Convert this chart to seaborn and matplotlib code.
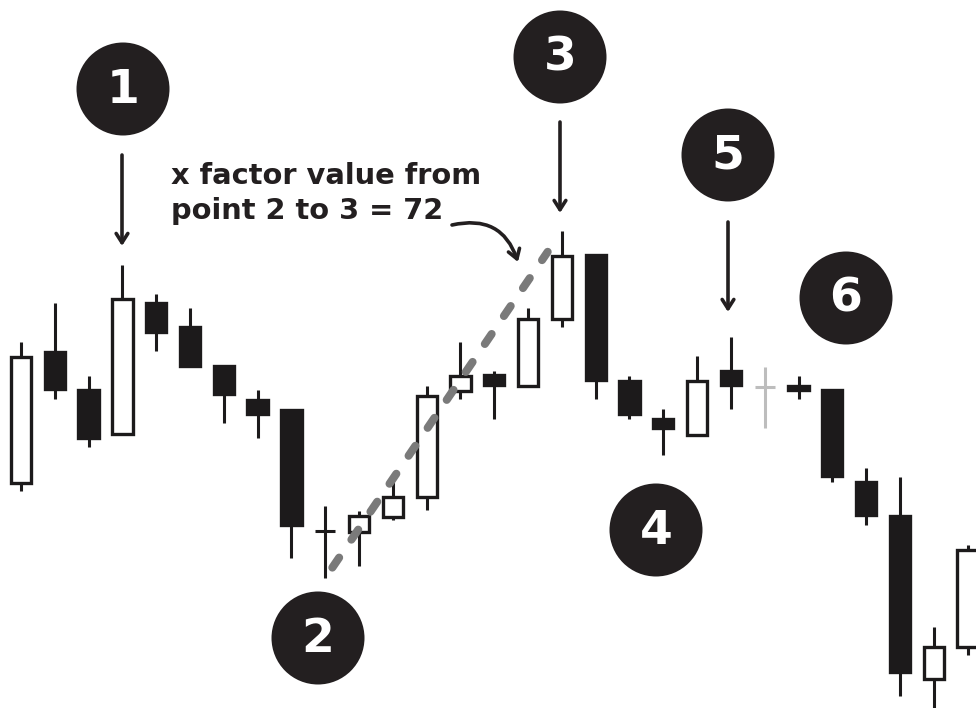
import numpy as np
import pandas as pd
import matplotlib
matplotlib.use("Agg")
import matplotlib.pyplot as plt
import seaborn as sns

# ---- data (price units) ----
candle_index = list(range(29))
open_ = [225, 356, 318, 274, 405, 381, 342, 308, 298, 177, 176, 191, 211, 317, 333,
         322, 389, 453, 327, 289, 273, 337, 321, 322, 318, 226, 192, 29, 61]
high = [366, 405, 332, 443, 414, 400, 342, 318, 298, 202, 197, 226, 322, 366, 337,
        400, 477, 453, 332, 299, 352, 371, 341, 332, 318, 240, 231, 81, 163]
low = [217, 309, 261, 274, 357, 342, 285, 270, 150, 130, 142, 188, 198, 309, 289,
       322, 381, 309, 289, 253, 273, 299, 280, 309, 226, 183, 12, -12, 53]
close = [351, 319, 270, 409, 376, 342, 314, 294, 183, 177, 192, 211, 312, 332, 323,
         389, 452, 328, 294, 280, 327, 323, 321, 318, 232, 193, 36, 61, 158]
faded = [22]  # light grey doji

point_labels = ["1", "2", "3", "4", "5", "6"]
annotation_text = "x factor value from\npoint 2 to 3 = 72"
trend_from, trend_to = 9, 16   # candle of point 2 (low) to point 3 (high)

df = pd.DataFrame({"i": candle_index, "open": open_, "high": high, "low": low, "close": close})

W, H, DPI = 976, 708, 100
sns.set_theme(style="white")
plt.rcParams["font.family"] = ["DejaVu Sans"]

fig = plt.figure(figsize=(W / DPI, H / DPI), dpi=DPI)
ax = fig.add_axes([0, 0, 1, 1])
ax.set_xlim(-0.621, 28.25)
ax.set_ylim(0, 708)
ax.axis("off")

INK = "#1c1a1b"
GREY = "#bdbdbd"
bw = 0.6

for _, r in df.iterrows():
    i = int(r["i"])
    col = GREY if i in faded else INK
    ax.vlines(i, r["low"], r["high"], color=col, lw=2.2, zorder=2)
    lo, hi = min(r["open"], r["close"]), max(r["open"], r["close"])
    if hi - lo < 1:
        ax.hlines(lo, i - bw / 2, i + bw / 2, color=col, lw=2.2, zorder=3)
        continue
    bull = r["close"] > r["open"]
    ax.bar(i, hi - lo, bottom=lo, width=bw,
           facecolor="white" if bull else col, edgecolor=col,
           linewidth=2.4, zorder=3)

# dashed trend line between point 2 and point 3
x0, y0 = trend_from, low[trend_from]
x1, y1 = trend_to, high[trend_to]
t0, t1 = 0.03, 0.94
tx = [x0 + (x1 - x0) * t0, x0 + (x1 - x0) * t1]
ty = [y0 + (y1 - y0) * t0, y0 + (y1 - y0) * t1]
sns.lineplot(x=tx, y=ty, ax=ax, color="#7a7a7a", lw=5.8, zorder=5)
trend = ax.lines[-1]
trend.set_dashes([1.5, 2.7])
trend.set_dash_capstyle("round")


def fpos(px, py):
    return px / W, 1 - py / H


circle_px = [(123, 89), (318, 638), (560, 57), (656, 530), (728, 155), (846, 298)]
for lab, (cx, cy) in zip(point_labels, circle_px):
    fx, fy = fpos(cx, cy)
    fig.patches.append(matplotlib.patches.Ellipse((fx, fy), 2 * 46.5 / W, 2 * 46.5 / H,
                                                  transform=fig.transFigure,
                                                  facecolor="#231f20", edgecolor="none",
                                                  zorder=10))
    fig.text(fx, fy - 0.002, lab, ha="center", va="center", color="white",
             fontsize=34, fontweight="bold", zorder=11)

# straight arrows
arrow_px = [((122, 155), (122, 246)), ((560, 122), (560, 213)), ((728, 222), (728, 312))]
for (sx, sy), (ex, ey) in arrow_px:
    ax.annotate("", xy=fpos(ex, ey), xycoords="figure fraction",
                xytext=fpos(sx, sy), textcoords="figure fraction",
                arrowprops=dict(arrowstyle="->,head_length=0.55,head_width=0.35",
                                color="#231f20", lw=2.6, shrinkA=0, shrinkB=0))

fig.text(*fpos(171, 219), annotation_text, ha="left", va="baseline", color="#231f20",
         fontsize=20.8, fontweight="bold", linespacing=1.32)

ax.annotate("", xy=fpos(518, 262), xycoords="figure fraction",
            xytext=fpos(452, 225), textcoords="figure fraction",
            arrowprops=dict(arrowstyle="->,head_length=0.55,head_width=0.35",
                            color="#231f20", lw=2.6, shrinkA=0, shrinkB=0,
                            connectionstyle="arc3,rad=-0.45"))

fig.savefig("out.png", dpi=DPI, facecolor="white")
